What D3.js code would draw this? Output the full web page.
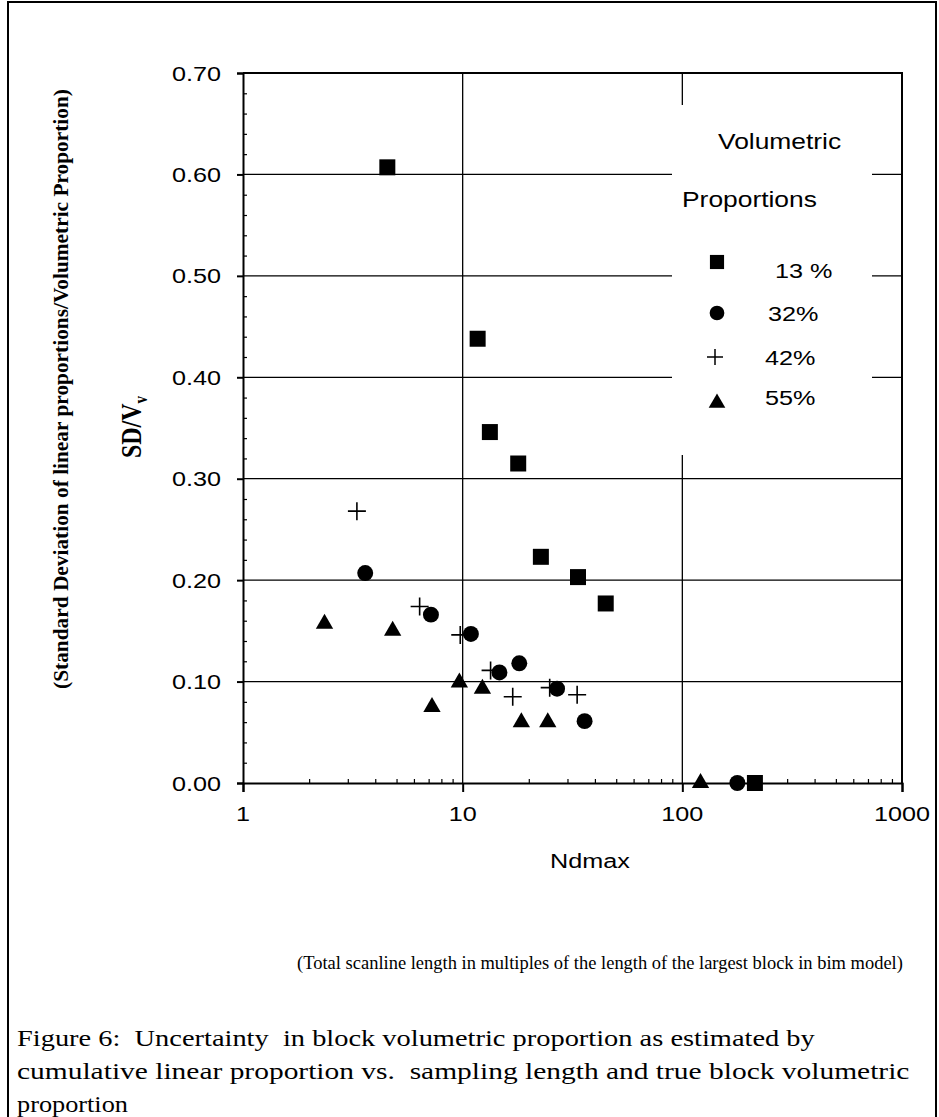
<!DOCTYPE html>
<html><head><meta charset="utf-8">
<script src="https://cdn.jsdelivr.net/npm/d3@7"></script>
<style>body{margin:0;background:#fff}svg{display:block}text{white-space:pre}</style>
</head><body>
<svg id="c" width="939" height="1117"></svg>
<script>
// ---- data ----
const seriesNames = ["13 %", "32%", "42%", "55%"];
const ndmax13 = [4.54, 11.7, 13.3, 17.9, 22.7, 33.5, 44.8, 214];
const sd13    = [0.607, 0.438, 0.346, 0.315, 0.223, 0.203, 0.177, 0.0];
const ndmax32 = [3.6, 7.17, 10.9, 14.7, 18.1, 26.9, 35.9, 178];
const sd32    = [0.207, 0.166, 0.147, 0.109, 0.118, 0.093, 0.061, 0.0];
const ndmax42 = [3.3, 6.37, 9.75, 13.4, 16.9, 24.9, 33.2];
const sd42    = [0.268, 0.174, 0.146, 0.111, 0.085, 0.094, 0.087];
const ndmax55 = [2.35, 4.8, 7.25, 9.66, 12.3, 18.5, 24.4, 121];
const sd55    = [0.157, 0.150, 0.075, 0.099, 0.093, 0.060, 0.060, 0.0];
const xTickValues = [1, 10, 100, 1000];
const xTickLabels = ["1", "10", "100", "1000"];
const yTickValues = [0, 0.1, 0.2, 0.3, 0.4, 0.5, 0.6, 0.7];
const yTickLabels = ["0.00", "0.10", "0.20", "0.30", "0.40", "0.50", "0.60", "0.70"];
const legendTitle = ["Volumetric", "Proportions"];
const xTitle = "Ndmax";
const xSubTitle = "(Total scanline length in multiples of the length of the largest block in bim model)";
const yTitle = "SD/V";
const yTitleSub = "v";
const ySubTitle = "(Standard Deviation of linear proportions/Volumetric Proportion)";
const captionLines = [
  "Figure 6:  Uncertainty  in block volumetric proportion as estimated by",
  "cumulative linear proportion vs.  sampling length and true block volumetric",
  "proportion"
];

// ---- layout ----
const L = 243, R = 902, T = 73, B = 783;
const SX = 1.2; // horizontal stretch of the scanned figure
const sans = "'Liberation Sans', Arial, sans-serif";
const serif = "'Liberation Serif', 'Times New Roman', serif";

const svg = d3.select("#c");
const x = d3.scaleLog().domain([1, 1000]).range([L, R]);
const y = d3.scaleLinear().domain([0, 0.7]).range([B, T]);

function stext(g, px, py, str, o) {
  o = o || {};
  const t = g.append("text")
    .attr("font-family", o.family || sans)
    .attr("font-size", o.size || 21)
    .attr("font-weight", o.weight || "normal")
    .attr("text-anchor", o.anchor || "start")
    .attr("fill", "#000")
    .text(str);
  let sx = SX, extra = "";
  if (o.target) {
    const nat = t.node().getComputedTextLength();
    if (o.rot) extra = ` scale(${o.target / nat},1)`;
    else sx = o.target / nat;
  }
  t.attr("transform", `translate(${px},${py}) scale(${sx},1)` + (o.rot ? ` rotate(${o.rot})` : "") + extra);
  return t;
}

// outer frame
svg.append("path").attr("d", "M8,1117V2H936V1117").attr("fill", "none").attr("stroke", "#000").attr("stroke-width", 2);

// gridlines
const grid = svg.append("g").attr("stroke", "#000").attr("stroke-width", 1.3);
grid.selectAll("line.h").data(yTickValues.filter(v => v > 0 && v < 0.7)).join("line")
  .attr("x1", L).attr("x2", R).attr("y1", d => y(d)).attr("y2", d => y(d));
grid.selectAll("line.v").data([10, 100]).join("line")
  .attr("x1", d => x(d)).attr("x2", d => x(d)).attr("y1", T).attr("y2", B);

// legend background (covers grid)
svg.append("rect").attr("x", 672).attr("y", 105).attr("width", 200).attr("height", 350).attr("fill", "#fff");

// axes
const yAxis = d3.axisLeft(y).tickValues(yTickValues).tickSize(6).tickFormat("");
svg.append("g").attr("transform", `translate(${L},0)`).call(yAxis)
  .call(g => g.selectAll("line,path").attr("stroke", "#000").attr("stroke-width", 2));
const yMinor = d3.range(0, 0.7001, 0.02).filter(v => Math.abs(v * 10 - Math.round(v * 10)) > 1e-6);
svg.append("g").attr("transform", `translate(${L},0)`)
  .call(d3.axisRight(y).tickValues(yMinor).tickSize(4).tickFormat(""))
  .call(g => g.select(".domain").remove())
  .call(g => g.selectAll("line").attr("stroke", "#000").attr("stroke-width", 1.2));

const xAxis = d3.axisBottom(x).tickValues(xTickValues).tickSize(9).tickFormat("");
svg.append("g").attr("transform", `translate(0,${B})`).call(xAxis)
  .call(g => g.selectAll("line,path").attr("stroke", "#000").attr("stroke-width", 2));
const xMinor = [];
[1, 10, 100].forEach(d => { for (let k = 2; k <= 9; k++) xMinor.push(d * k); });
svg.append("g").attr("transform", `translate(0,${B})`)
  .call(d3.axisTop(x).tickValues(xMinor).tickSize(4).tickFormat(""))
  .call(g => g.select(".domain").remove())
  .call(g => g.selectAll("line").attr("stroke", "#000").attr("stroke-width", 1.2));

// top and right frame of plot
svg.append("path").attr("d", `M${L},${T}H${R}V${B}`).attr("fill", "none").attr("stroke", "#000").attr("stroke-width", 2);

// tick labels
yTickValues.forEach((v, i) => stext(svg, 221, y(v) + 7.5, yTickLabels[i], { anchor: "end", size: 21 }));
xTickValues.forEach((v, i) => stext(svg, x(v), 821, xTickLabels[i], { anchor: "middle", size: 21 }));

// axis titles
stext(svg, 590, 868, xTitle, { anchor: "middle", size: 21 });
stext(svg, 600, 969, xSubTitle, { anchor: "middle", size: 19, family: serif, target: 606 });
const yt = stext(svg, 141, 427, "", { anchor: "middle", size: 24, family: serif, weight: "bold", rot: -90 });
yt.append("tspan").text(yTitle);
yt.append("tspan").attr("font-size", 15).attr("dy", 5).text(yTitleSub);
stext(svg, 68, 389, ySubTitle, { anchor: "middle", size: 17, family: serif, weight: "bold", rot: -90, target: 600 });

// captions
const capLens = [798, 893, 111];
captionLines.forEach((s, i) => stext(svg, 17, 1046 + i * 33, s, { size: 24, family: serif, target: capLens[i] }));

// markers
const symSquare = d3.symbol().type(d3.symbolSquare).size(256);
const symCircle = d3.symbol().type(d3.symbolCircle).size(200);
const symTri = d3.symbol().type(d3.symbolTriangle).size(130);
const plusPath = "M-9,0H9M0,-9V9";

function drawSeries(xs, ys, kind) {
  const g = svg.append("g");
  const data = xs.map((v, i) => [v, ys[i]]);
  const sel = g.selectAll("path").data(data).join("path")
    .attr("transform", d => `translate(${x(d[0])},${y(d[1])})`);
  if (kind === "plus") sel.attr("d", plusPath).attr("stroke", "#000").attr("stroke-width", 1.6).attr("fill", "none");
  else sel.attr("d", kind === "square" ? symSquare() : kind === "circle" ? symCircle() : symTri()).attr("fill", "#000");
}
drawSeries(ndmax55, sd55, "tri");
drawSeries(ndmax42, sd42, "plus");
drawSeries(ndmax32, sd32, "circle");
drawSeries(ndmax13, sd13, "square");

// legend
stext(svg, 718, 149, legendTitle[0], { size: 22 });
stext(svg, 682, 207, legendTitle[1], { size: 22 });
const legItems = [
  { kind: "square", mx: 717, my: 262, tx: 775, ty: 278 },
  { kind: "circle", mx: 717, my: 313, tx: 768, ty: 321 },
  { kind: "plus",   mx: 715, my: 357, tx: 765, ty: 365 },
  { kind: "tri",    mx: 717, my: 403, tx: 765, ty: 405 }
];
legItems.forEach((it, i) => {
  const p = svg.append("path").attr("transform", `translate(${it.mx},${it.my})`);
  if (it.kind === "plus") p.attr("d", "M-8,0H8M0,-8V8").attr("stroke", "#000").attr("stroke-width", 1.5).attr("fill", "none");
  else p.attr("d", it.kind === "square" ? d3.symbol().type(d3.symbolSquare).size(200)() :
                   it.kind === "circle" ? d3.symbol().type(d3.symbolCircle).size(170)() :
                   d3.symbol().type(d3.symbolTriangle).size(120)()).attr("fill", "#000");
  stext(svg, it.tx, it.ty, seriesNames[i], { size: 21 });
});
</script>
</body></html>
